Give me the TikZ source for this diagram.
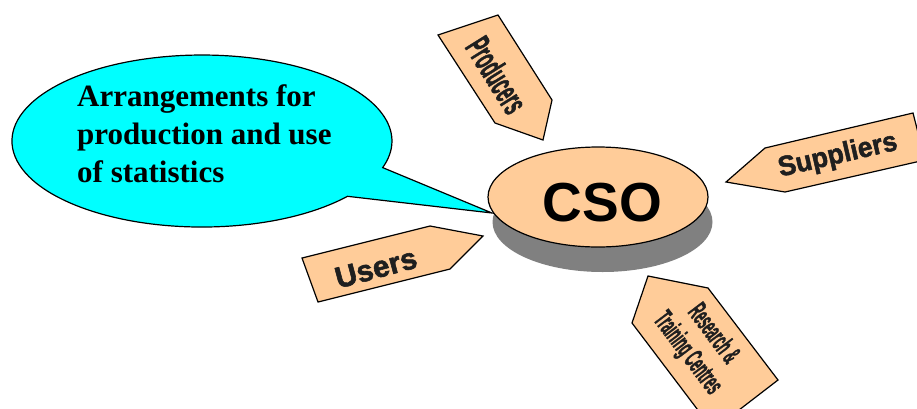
\documentclass[tikz,border=0pt]{standalone}
\usepackage{fontspec}
\setmainfont{Liberation Serif}
\newfontfamily\arialfont{Liberation Sans}
\newfontfamily\arialheavy{Liberation Sans Bold}[FakeBold=1.8]
\usetikzlibrary{shapes.geometric}
\definecolor{peach}{HTML}{FFCC99}
\definecolor{calloutcyan}{HTML}{00FFFF}
\definecolor{shadowgray}{HTML}{808080}
\tikzset{
  callout/.style={draw=black, line width=1.2pt, fill=calloutcyan},
  arrowbox/.style={draw=black, line width=1.2pt, fill=peach, line join=miter},
  arrowtext/.style={text=black!88, inner sep=0pt, align=center},
}
\begin{document}
\begin{tikzpicture}[x=1pt, y=-1pt]
\useasboundingbox (0,0) rectangle (917,408);
\clip (0,0) rectangle (917,408);
% callout
\coordinate (tip) at (492,213);
\draw[callout] (347.5,196.3) arc[start angle=40, end angle=378, x radius=190, y radius=86] -- (tip) -- cycle;
\node[anchor=base west, align=left, inner sep=0pt, font=\bfseries\fontsize{31pt}{38pt}\selectfont] (txt) at (77,182)
  {Arrangements for\\production and use\\of statistics};
% CSO
\fill[shadowgray] (602.5,222) ellipse [x radius=110, y radius=50];
\node[ellipse, draw=black, line width=1.2pt, fill=peach, minimum width=220pt, minimum height=100pt, inner sep=0pt] (cso) at (598,197) {};
\node[inner sep=0pt, font=\arialfont\bfseries\fontsize{55pt}{60pt}\selectfont] (csotext) at ([xshift=4.5pt, yshift=-5.5pt]cso.center) {CSO};
% Producers
\draw[arrowbox] (438,35) -- (498,15) -- (552,100) -- (543,140) -- (495,123) -- cycle;
\node[arrowtext, rotate=-58, font=\arialheavy\fontsize{36pt}{40pt}\selectfont] (prod) at (497,75)
  {\scalebox{0.46}[1]{Producers}};
% Suppliers
\draw[arrowbox] (726,182) -- (765,148) -- (913,113) -- (925,160) -- (785,192) -- cycle;
\node[arrowtext, rotate=13, font=\arialheavy\fontsize{28pt}{32pt}\selectfont] (supp) at (838,156)
  {\scalebox{0.95}[1]{Suppliers}};
% Users
\draw[arrowbox] (302,258) -- (430,226) -- (483,236) -- (450,269) -- (318,302) -- cycle;
\node[arrowtext, rotate=15, font=\arialheavy\fontsize{30pt}{34pt}\selectfont] (users) at (376,268)
  {Users};
% Research
\draw[arrowbox] (648,276) -- (708,288) -- (778,380) -- (713,430) -- (632,323) -- cycle;
\node[arrowtext, rotate=-53, font=\arialheavy\fontsize{28pt}{32pt}\selectfont] (res) at (700,344)
  {\scalebox{0.43}[1]{Research \&}\\\scalebox{0.43}[1]{Training Centres}};
\end{tikzpicture}
\end{document}
